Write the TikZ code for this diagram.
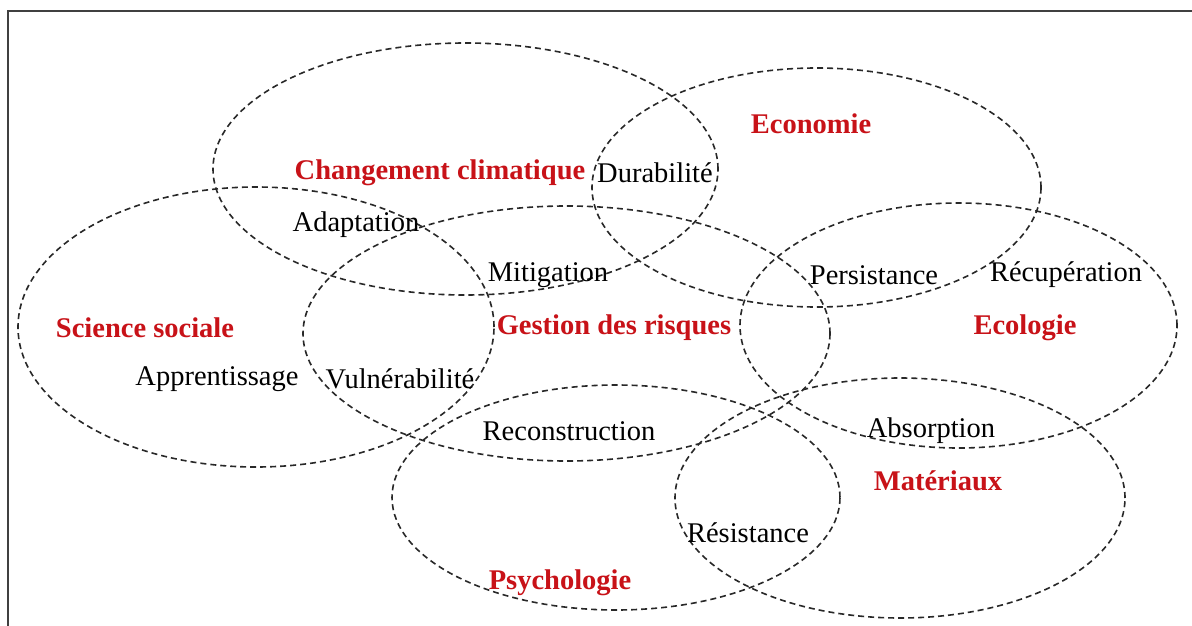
\documentclass[tikz,border=0pt]{standalone}
\usepackage{fontspec}
\setmainfont{Liberation Serif}
\usetikzlibrary{shapes.geometric}
\definecolor{lblred}{RGB}{200,18,24}
\definecolor{ringgray}{RGB}{40,40,40}
\tikzset{
  ring/.style={ellipse, draw=ringgray, line width=1.6pt, dash pattern=on 6pt off 4pt, inner sep=0pt, fill=none},
  field/.style={text=lblred, font=\fontsize{28.5}{30}\selectfont\bfseries, inner sep=0pt, yshift=-3pt},
  term/.style={text=black, font=\fontsize{28.5}{30}\selectfont, inner sep=0pt, yshift=-3pt}
}
\begin{document}
\begin{tikzpicture}[x=1pt,y=-1pt]
\useasboundingbox (0,0) rectangle (1192,626);
\fill[white] (0,0) rectangle (1192,626);
% frame (only left and top edges visible)
\coordinate (fbl) at (8,630);
\coordinate (ftl) at (8,11);
\coordinate (ftr) at (1196,11);
\draw[line width=2.2pt, draw=black!75] (fbl) -- (ftl) -- (ftr);
% ellipses
\node[ring, minimum width=505pt, minimum height=252pt] (cc) at (465.5,169) {};
\node[ring, minimum width=449pt, minimum height=239pt] (eco) at (816.5,187.5) {};
\node[ring, minimum width=476pt, minimum height=280pt] (ss) at (256,327) {};
\node[ring, minimum width=527pt, minimum height=255pt] (gr) at (566.5,333.5) {};
\node[ring, minimum width=437pt, minimum height=245pt] (eko) at (958.5,325.5) {};
\node[ring, minimum width=448pt, minimum height=225pt] (psy) at (616,497.5) {};
\node[ring, minimum width=450pt, minimum height=240pt] (mat) at (900,498) {};
% field labels
\node[field] (lcc) at (440,170) {Changement climatique};
\node[field] (leco) at (811,121) {Economie};
\node[field] (lss) at (145,325) {Science sociale};
\node[field] (lgr) at (614,325) {Gestion des risques};
\node[field] (leko) at (1025,325) {Ecologie};
\node[field] (lmat) at (938,478) {Matériaux};
\node[field] (lpsy) at (560,580) {Psychologie};
% terms
\node[term] (tdur) at (655,170) {Durabilité};
\node[term] (tada) at (356,222) {Adaptation};
\node[term] (tmit) at (548,272) {Mitigation};
\node[term] (tper) at (874,272) {Persistance};
\node[term] (trec) at (1066,272) {Récupération};
\node[term] (tapp) at (217,376) {Apprentissage};
\node[term] (tvul) at (400,376) {Vulnérabilité};
\node[term] (tcon) at (569,428) {Reconstruction};
\node[term] (tabs) at (931,428) {Absorption};
\node[term] (tres) at (748,530) {Résistance};
\end{tikzpicture}
\end{document}
